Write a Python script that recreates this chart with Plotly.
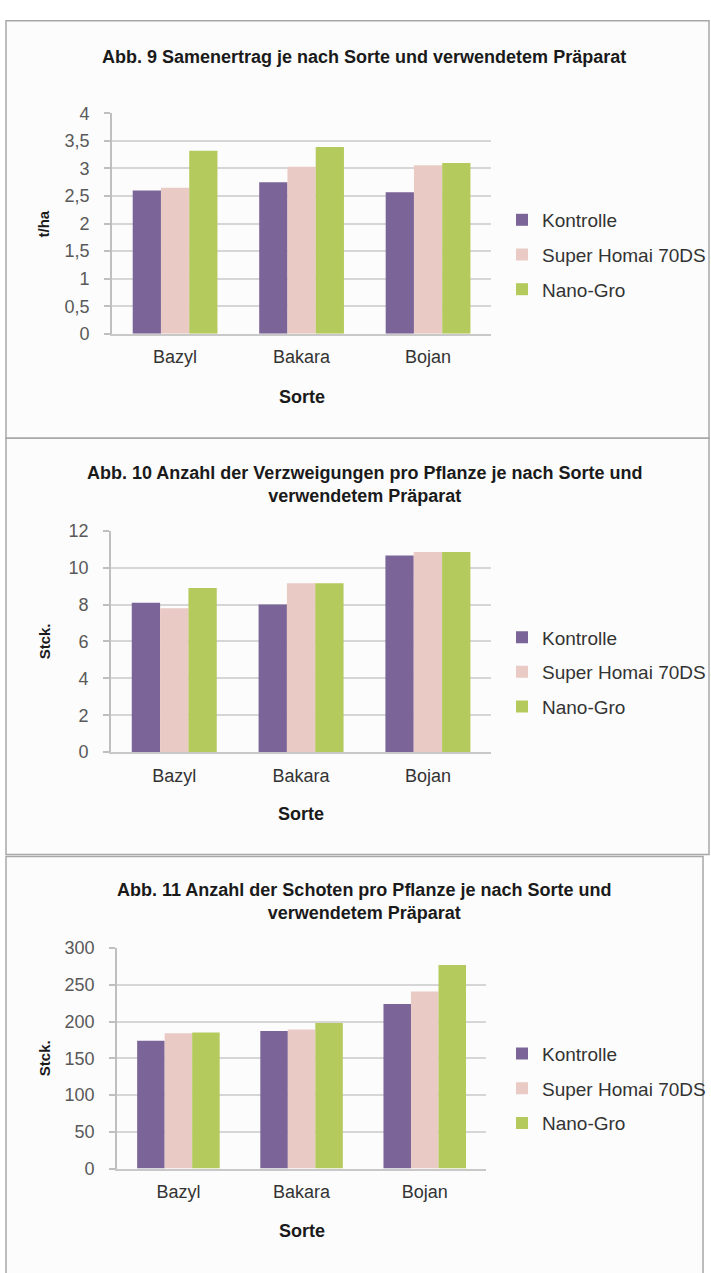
import plotly.graph_objects as go

# Sorten (categories) and treatments
sorten = ["Bazyl", "Bakara", "Bojan"]
praeparate = ["Kontrolle", "Super Homai 70DS", "Nano-Gro"]

# Abb. 9 – Samenertrag (t/ha)
ertrag_kontrolle = [2.60, 2.75, 2.57]
ertrag_superhomai = [2.65, 3.03, 3.06]
ertrag_nanogro = [3.32, 3.39, 3.10]

# Abb. 10 – Verzweigungen pro Pflanze (Stck.)
zweige_kontrolle = [8.1, 8.0, 10.65]
zweige_superhomai = [7.8, 9.15, 10.85]
zweige_nanogro = [8.9, 9.15, 10.85]

# Abb. 11 – Schoten pro Pflanze (Stck.)
schoten_kontrolle = [174, 187, 224]
schoten_superhomai = [184, 189, 241]
schoten_nanogro = [185, 198, 277]

titel = [
    "Abb. 9 Samenertrag je nach Sorte und verwendetem Präparat",
    "Abb. 10 Anzahl der Verzweigungen pro Pflanze je nach Sorte und<br>verwendetem Präparat",
    "Abb. 11 Anzahl der Schoten pro Pflanze je nach Sorte und<br>verwendetem Präparat",
]
y_titel = ["t/ha", "Stck.", "Stck."]
x_titel = "Sorte"

y_ranges = [[0, 4], [0, 12], [0, 300]]
y_dticks = [0.5, 2, 50]

farben = ["#7B6497", "#EACAC4", "#B5CA5D"]

W, H = 711, 1273
FONT = "Liberation Sans, Arial, sans-serif"


def px_x(x):
    return x / W


def px_y(y):
    return 1 - y / H


# panel geometry in pixels
panels = [
    dict(box=(6, 11, 710, 435), plot_x=(112, 492), plot_y=(105, 329),
         title_y=48, xlab_y=393, leg_y=194),
    dict(box=(6, 435, 710, 858), plot_x=(111, 492), plot_y=(529, 754),
         title_y=482, xlab_y=817, leg_y=618),
    dict(box=(6, 860, 704, 1290), plot_x=(117, 487), plot_y=(953, 1177),
         title_y=906, xlab_y=1240, leg_y=1041),
]

daten = [
    [ertrag_kontrolle, ertrag_superhomai, ertrag_nanogro],
    [zweige_kontrolle, zweige_superhomai, zweige_nanogro],
    [schoten_kontrolle, schoten_superhomai, schoten_nanogro],
]

fig = go.Figure()
shapes = []
annotations = []

for i, (p, reihen) in enumerate(zip(panels, daten)):
    n = "" if i == 0 else str(i + 1)
    leg = "legend" if i == 0 else f"legend{i + 1}"
    for name, werte, farbe in zip(praeparate, reihen, farben):
        fig.add_trace(go.Bar(
            x=sorten, y=werte, name=name, marker=dict(color=farbe, line=dict(width=0)),
            xaxis=f"x{n}", yaxis=f"y{n}", legend=leg, legendgroup=f"{i}-{name}",
            hoverinfo="x+y+name",
        ))

    x0, y0, x1, y1 = p["box"]
    shapes.append(dict(type="rect", xref="paper", yref="paper",
                       x0=px_x(x0), x1=px_x(x1), y0=px_y(y1), y1=px_y(y0),
                       line=dict(color="#A8A8A8", width=1.5), fillcolor="#FCFCFC",
                       layer="below"))

    fig.update_layout(**{
        f"xaxis{n}": dict(
            domain=[px_x(p["plot_x"][0]), px_x(p["plot_x"][1])],
            anchor=f"y{n}", showgrid=False, showline=True, linecolor="#C8C8C8",
            linewidth=1.5, ticks="", ticklabelstandoff=6,
            tickfont=dict(family=FONT, size=18, color="#333333"),
            fixedrange=True,
        ),
        f"yaxis{n}": dict(
            domain=[px_y(p["plot_y"][1]), px_y(p["plot_y"][0])],
            anchor=f"x{n}", range=y_ranges[i], dtick=y_dticks[i],
            showgrid=True, gridcolor="#D6D6D6", gridwidth=1.5,
            showline=True, linecolor="#BFBFBF", linewidth=1.5,
            ticks="outside", ticklen=6, tickcolor="#BFBFBF", tickwidth=1.5,
            ticklabelstandoff=11, zeroline=False,
            tickfont=dict(family=FONT, size=18, color="#595959"),
            fixedrange=True,
        ),
        leg: dict(
            x=px_x(503), y=px_y(p["leg_y"]), xanchor="left", yanchor="top",
            font=dict(family=FONT, size=19, color="#333333"),
            bgcolor="rgba(0,0,0,0)", tracegroupgap=7, traceorder="grouped",
        ),
    })

    annotations.append(dict(
        text=f"<b>{titel[i]}</b>", xref="paper", yref="paper",
        x=px_x(365), y=px_y(p["title_y"]), xanchor="center", yanchor="middle",
        showarrow=False, font=dict(family=FONT, size=18, color="#1A1A1A"),
        align="center",
    ))
    annotations.append(dict(
        text=f"<b>{x_titel}</b>", xref="paper", yref="paper",
        x=px_x(sum(p["plot_x"]) / 2), y=px_y(p["xlab_y"]), xanchor="center",
        yanchor="middle", showarrow=False,
        font=dict(family=FONT, size=18, color="#1A1A1A"),
    ))
    annotations.append(dict(
        text=f"<b>{y_titel[i]}</b>", xref="paper", yref="paper",
        x=px_x(44), y=px_y(sum(p["plot_y"]) / 2), xanchor="center",
        yanchor="middle", textangle=-90, showarrow=False,
        font=dict(family=FONT, size=15, color="#1A1A1A"),
    ))

fig.update_layout(
    width=W, height=H,
    margin=dict(l=0, r=0, t=0, b=0),
    paper_bgcolor="white", plot_bgcolor="rgba(0,0,0,0)",
    barmode="group", bargap=0.33, bargroupgap=0,
    separators=",.",
    shapes=shapes, annotations=annotations,
    showlegend=True,
)

fig.write_html("out.html", config={"displayModeBar": False})
